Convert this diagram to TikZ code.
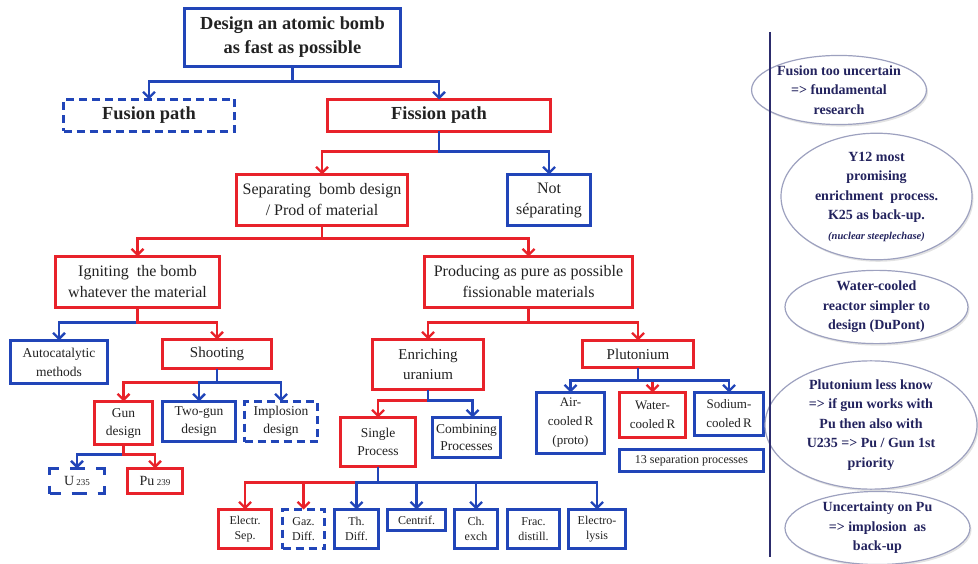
\documentclass[tikz,border=0pt]{standalone}
\usepackage{fontspec}
\setmainfont{Liberation Serif}
\usetikzlibrary{arrows.meta,shapes.geometric,shadows}

\definecolor{myred}{HTML}{E8222A}
\definecolor{myblue}{HTML}{2145B8}
\definecolor{txt}{HTML}{222222}
\definecolor{navy}{HTML}{23235E}
\definecolor{rule}{HTML}{2C2C6C}
\definecolor{ellline}{HTML}{9DA1BF}

\newcommand{\fs}[2]{\fontsize{#1}{#2}\selectfont}

\tikzset{
  box/.style={draw, line width=3.2pt, fill=white, text=txt, align=center,
              inner sep=0pt, outer sep=0pt, anchor=center},
  rbox/.style={box, draw=myred},
  bbox/.style={box, draw=myblue},
  bdash/.style={bbox, dash pattern=on 8pt off 5pt},
  conn/.style={line width=2.3pt, -{Straight Barb[length=6pt,width=12pt]}},
  rarr/.style={conn, draw=myred},
  barr/.style={conn, draw=myblue},
  note/.style={ellipse, draw=ellline, line width=1.2pt, fill=white,
               text=navy, align=center, inner sep=0pt, font=\bfseries\fs{14}{19.5},
               drop shadow={opacity=0.22, shadow xshift=1.5pt, shadow yshift=-2pt}}
}

\begin{document}
\begin{tikzpicture}[x=1pt, y=-1pt]
\useasboundingbox (0,0) rectangle (978,564);

% ---- level 0 ----
\node[bbox, minimum width=216, minimum height=58, font=\bfseries\fs{18.4}{24}]
  (top) at (292.5,37.5) {Design an atomic bomb\\as fast as possible};

% ---- level 1 ----
\node[bdash, minimum width=171, minimum height=32, font=\bfseries\fs{18.4}{22}]
  (fusion) at (149,115.5) {Fusion path};
\node[rbox, minimum width=223, minimum height=32, font=\bfseries\fs{18.4}{22}]
  (fission) at (439,115.5) {Fission path};

% ---- level 2 ----
\node[rbox, minimum width=171, minimum height=51, font=\fs{16}{21}]
  (separ) at (322,200) {Separating \ bomb design\\/ Prod of material};
\node[bbox, minimum width=83, minimum height=51, font=\fs{16}{21}]
  (notsep) at (549,200) {Not\\séparating};

% ---- level 3 ----
\node[rbox, minimum width=164, minimum height=51, font=\fs{16}{21}]
  (ignite) at (137.5,282) {Igniting \ the bomb\\whatever the material};
\node[rbox, minimum width=208, minimum height=51, font=\fs{16}{21}]
  (produce) at (528.5,282) {Producing as pure as possible\\fissionable materials};

% ---- level 4 ----
\node[bbox, minimum width=97, minimum height=43, font=\fs{13.5}{19}]
  (autocat) at (59,362) {Autocatalytic\\methods};
\node[rbox, minimum width=109, minimum height=29, font=\fs{15}{18}]
  (shoot) at (217,354) {Shooting};
\node[rbox, minimum width=111, minimum height=50, font=\fs{15}{20}]
  (enrich) at (428,364.5) {Enriching\\uranium};
\node[rbox, minimum width=111, minimum height=27, font=\fs{15}{18}]
  (pluto) at (638,354) {Plutonium};

% ---- level 5 ----
\node[rbox, minimum width=58, minimum height=43, font=\fs{13.5}{18}]
  (gun) at (123.5,423) {Gun\\design};
\node[bbox, minimum width=73, minimum height=40, font=\fs{13.5}{18}]
  (twogun) at (199,421.5) {Two-gun\\design};
\node[bdash, minimum width=73, minimum height=40, font=\fs{13.5}{18}]
  (implo) at (281,421.5) {Implosion\\design};
\node[rbox, minimum width=75, minimum height=49, font=\fs{13.5}{18}]
  (single) at (378,442) {Single\\Process};
\node[bbox, minimum width=68, minimum height=40, font=\fs{13.5}{17}]
  (combine) at (466.5,437.5) {Combining\\Processes};
\node[bbox, minimum width=68, minimum height=61, font=\fs{13}{19}]
  (air) at (570.5,423) {Air-\\cooled\,R\\(proto)};
\node[rbox, minimum width=66, minimum height=45, font=\fs{13}{19}]
  (water) at (652.5,415) {Water-\\cooled\,R};
\node[bbox, minimum width=69, minimum height=43, font=\fs{13}{19}]
  (sodium) at (729,414) {Sodium-\\cooled\,R};
\node[bbox, minimum width=144, minimum height=22, font=\fs{12}{14}]
  (thirteen) at (691.5,460.5) {13 separation processes};

% ---- level 6 ----
\node[bbox, minimum width=55, minimum height=25, font=\fs{14}{16},
      dash pattern=on 15pt off 11pt, dash phase=4pt]
  (u235) at (77,481) {U\,{\fs{9}{9}235}};
\node[rbox, minimum width=55, minimum height=25, font=\fs{14}{16}]
  (pu239) at (155,481) {Pu\,{\fs{9}{9}239}};

\node[rbox, minimum width=53, minimum height=39, font=\fs{12}{15}]
  (electr) at (245,529) {Electr.\\Sep.};
\node[bdash, minimum width=42, minimum height=39, font=\fs{12}{15}]
  (gaz) at (303.5,529) {Gaz.\\Diff.};
\node[bbox, minimum width=44, minimum height=39, font=\fs{12}{15}]
  (thdiff) at (356.5,529) {Th.\\Diff.};
\node[bbox, minimum width=58, minimum height=21, font=\fs{12}{15}]
  (centrif) at (416.5,520) {Centrif.};
\node[bbox, minimum width=43, minimum height=39, font=\fs{12}{15}]
  (chexch) at (476,529) {Ch.\\exch};
\node[bbox, minimum width=52, minimum height=39, font=\fs{12}{15}]
  (frac) at (533.5,529) {Frac.\\distill.};
\node[bbox, minimum width=57, minimum height=39, font=\fs{12}{15}]
  (electro) at (597,529) {Electro-\\lysis};

% ---- connectors (drawn so the shared trunk takes the last colour) ----
\draw[barr] (top.south) -- ++(0,15) -| (fusion.north);
\draw[barr] (top.south) -- ++(0,15) -| (fission.north);

\draw[rarr] (fission.south) -- ++(0,20) -| (separ.north);
\draw[barr] (fission.south) -- ++(0,20) -| (notsep.north);

\draw[rarr] (separ.south) -- ++(0,13) -| (ignite.north);
\draw[rarr] (separ.south) -- ++(0,13) -| (produce.north);

\draw[barr] (ignite.south) -- ++(0,15) -| (autocat.north);
\draw[rarr] (ignite.south) -- ++(0,15) -| (shoot.north);

\draw[rarr] (produce.south) -- ++(0,15) -| (enrich.north);
\draw[rarr] (produce.south) -- ++(0,15) -| (pluto.north);

\draw[rarr] (shoot.south) -- ++(0,14) -| (gun.north);
\draw[barr] (shoot.south) -- ++(0,14) -| (twogun.north);
\draw[barr] (shoot.south) -- ++(0,14) -| (implo.north);

\draw[barr] (gun.south) -- ++(0,10) -| (u235.north);
\draw[rarr] (gun.south) -- ++(0,10) -| (pu239.north);

\draw[rarr] (enrich.south) -- ++(0,11) -| (single.north);
\draw[barr] (enrich.south) -- ++(0,11) -| ([xshift=6pt]combine.north);

\draw[rarr] (pluto.south) -- ++(0,13) -| (water.north);
\draw[barr] (pluto.south) -- ++(0,13) -| (air.north);
\draw[barr] (pluto.south) -- ++(0,13) -| (sodium.north);

\draw[rarr] (single.south) -- ++(0,16) -| (electr.north);
\draw[rarr] (single.south) -- ++(0,16) -| (gaz.north);
\draw[barr] (single.south) -- ++(0,16) -| (thdiff.north);
\draw[barr] (single.south) -- ++(0,16) -| (centrif.north);
\draw[barr] (single.south) -- ++(0,16) -| (chexch.north);
\draw[barr] (single.south) -- ++(0,16) -| (electro.north);

% ---- side notes ----
\node[note, minimum width=162, minimum height=58] (n1) at (839,90)
  {Fusion too uncertain\\=> fundamental\\research};
\node[note, minimum width=191, minimum height=107] (n2) at (876.5,196.5)
  {Y12 most\\promising\\enrichment \ process.\\K25 as back-up.\\{\itshape\fs{10.5}{19.5}(nuclear steeplechase)}};
\node[note, minimum width=183, minimum height=72] (n3) at (876.5,307)
  {Water-cooled\\reactor simpler to\\design (DuPont)};
\node[note, minimum width=212, minimum height=112] (n4) at (871,425)
  {Plutonium less know\\=> if gun works with\\Pu then also with\\U235 => Pu / Gun 1st\\priority};
\node[note, minimum width=185, minimum height=66] (n5) at (877.5,528)
  {Uncertainty on Pu\\=> implosion \ as\\back-up};

% separator rule
\coordinate (ruletop) at (770,32);
\coordinate (rulebot) at (770,557);
\draw[rule, line width=2pt] (ruletop) -- (rulebot);
\end{tikzpicture}
\end{document}
